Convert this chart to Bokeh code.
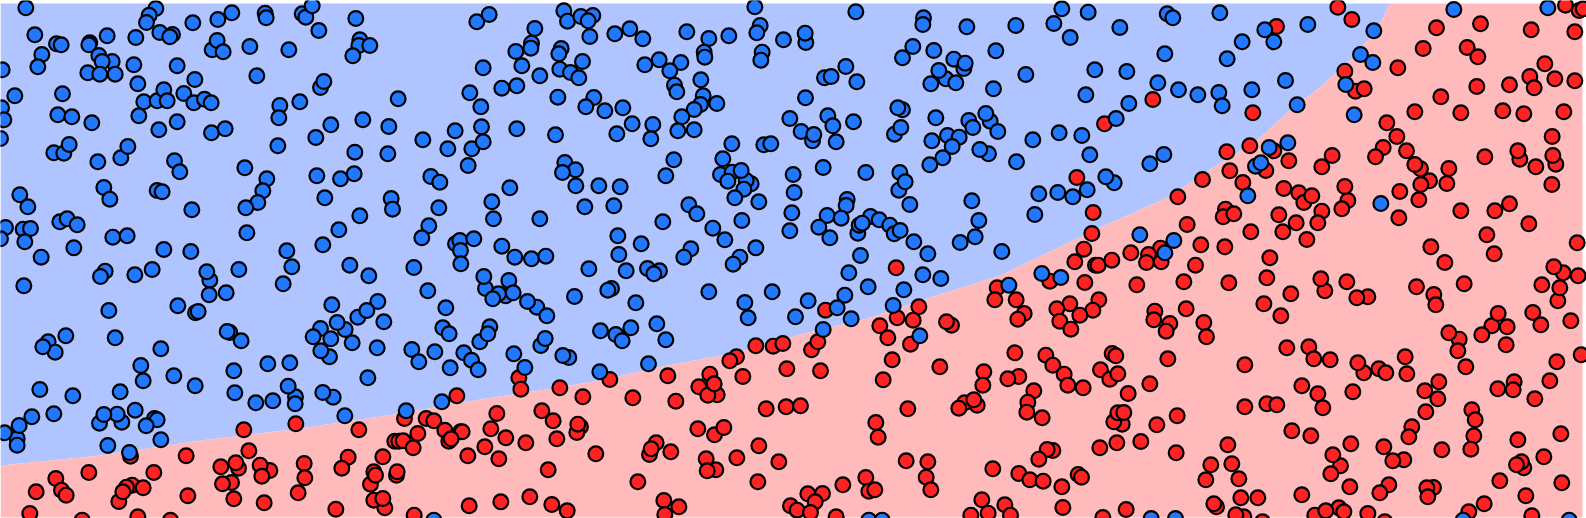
from bokeh.plotting import figure
from bokeh.embed import file_html
from bokeh.resources import INLINE

# Points, per area of the picture, in units of 1/3 pixel
ORIGINS = {"a": (0, 0), "b": (400, 0), "c": (800, 0), "d": (1186, 0),
           "e": (0, 258), "f": (400, 258), "g": (800, 258), "h": (1186, 258)}

blue_a = [(76,22),(103,103),(168,130),(182,133),(124,162),(112,199),(5,208),(268,127),(265,133),(320,106),(295,165),(335,183),(305,183),(262,217),(298,221),(344,221),(406,111),(400,193),(412,250),(466,24),(446,44),(438,66),(478,96),(516,102),(508,109),(577,67),(652,57),(694,37),(635,148),(650,120),(668,154),(748,138),(794,38),(797,52),(905,40),(916,50),(935,16),(955,90),(865,148),(1066,54),(1078,118),(1075,135),(1108,135),(1057,166),(530,196),(583,237),(769,226),(186,280),(43,286),(172,343),(214,349),(274,367),(3,322),(10,358),(0,414),(415,346),(430,304),(470,301),(490,268),(500,301),(550,279),(580,307),(612,296),(632,307),(530,364),(475,388),(633,397),(674,385),(960,261),(970,243),(898,304),(838,315),(835,352),(991,373),(946,411),(1087,358),(1165,378),(1193,295),(832,436),(1063,455),(1162,460),(160,457),(190,458),(206,432),(292,484),(361,472),(382,438),(522,481),(538,514),(733,502),(799,535),(787,571),(772,606),(736,622),(949,526),(1020,535),(1061,520),(973,592),(1172,594),(1176,626),(1078,646),(1015,688),(739,697),(967,733),(859,751),(58,583),(82,619),(310,561),(328,596),(470,570),(485,574),(574,628),(15,681),(68,686),(90,684),(73,724),(0,715),(178,664),(200,655),(230,673),(220,742),(337,710),(380,706),(490,747),(571,753),(122,770)]
blue_b = [(229,64),(266,42),(403,84),(393,128),(391,143),(346,153),(490,31),(501,62),(541,48),(577,45),(563,61),(568,108),(643,100),(688,85),(727,115),(859,94),(925,114),(985,106),(1063,19),(1079,75),(1069,97),(1149,118),(482,144),(475,160),(546,183),(364,196),(248,202),(418,226),(478,206),(510,216),(535,232),(733,193),(776,178),(841,186),(808,211),(911,155),(913,170),(1085,155),(1081,179),(901,238),(822,254),(829,274),(304,263),(349,256),(208,277),(472,290),(580,291),(556,319),(613,331),(667,322),(241,319),(908,286),(900,312),(881,327),(949,309),(844,349),(695,370),(757,372),(649,400),(751,415),(832,391),(881,388),(243,379),(349,385),(164,391),(465,403),(67,418),(142,445),(214,445),(248,424),(1168,354),(994,430),(1090,433),(1111,430),(203,495),(967,475),(820,478),(796,526),(493,486),(525,508),(486,516),(91,528),(118,545),(526,556),(595,556),(659,559),(328,562),(960,522),(995,515),(1052,550),(1037,540),(1030,566),(1022,510),(982,542),(1178,522),(1181,576),(1003,592),(1075,604),(274,604),(115,622),(553,619),(640,616),(865,613),(889,640),(1174,637),(1168,691),(279,655),(418,655),(787,664),(1024,660),(85,676),(937,683),(64,712),(652,706),(973,718),(165,730),(178,720),(220,715),(180,750),(722,730),(304,737),(1066,742),(871,745),(655,762),(343,770),(393,775),(436,767),(850,770),(1018,770)]
blue_c = [(166,34),(369,52),(367,72),(499,79),(646,75),(784,25),(863,35),(760,69),(958,81),(809,111),(1100,40),(1117,52),(16,126),(14,98),(337,138),(306,172),(400,150),(586,151),(1093,160),(460,176),(490,204),(494,188),(436,235),(415,210),(391,250),(466,247),(136,198),(72,232),(92,228),(169,244),(883,208),(979,213),(676,222),(1072,247),(579,265),(1134,268),(1192,283),(15,292),(856,283),(985,309),(306,328),(292,322),(82,346),(97,376),(159,364),(406,352),(505,360),(569,362),(556,339),(517,381),(592,393),(947,354),(282,401),(301,381),(776,397),(844,405),(697,418),(2,393),(36,421),(40,402),(107,424),(441,405),(476,410),(394,421),(455,438),(564,460),(538,447),(427,472),(388,493),(648,484),(868,463),(1090,462),(1048,490),(68,501),(196,516),(298,516),(295,569),(314,544),(941,547),(916,529),(860,568),(772,576),(715,580),(817,589),(140,597),(137,615),(514,601),(328,612),(703,642),(80,645),(122,653),(55,680),(88,712),(210,648),(236,658),(172,698),(176,674),(185,668),(268,674),(281,700),(299,690),(340,724),(382,760),(180,765),(479,726),(524,709),(535,660),(604,753),(1018,703),(1120,720),(1093,757)]
blue_d = [(100,37),(235,88),(364,72),(167,124),(262,124),(122,175),(562,91),(522,162),(559,186),(802,27),(1084,22),(297,240),(196,268),(97,276),(107,316),(332,313),(478,252),(503,343),(304,427),(248,441),(207,497),(223,487),(184,586),(583,609)]
blue_e = [(314,38),(300,54),(403,49),(455,33),(70,82),(628,65),(619,40),(626,109),(677,103),(715,33),(874,25),(848,76),(1048,20),(1105,52),(325,156),(532,142),(585,163),(593,159),(994,139),(1132,129),(1072,176),(1099,156),(1150,190),(960,210),(1034,213),(1010,192),(938,235),(987,295),(961,277),(991,241),(1055,253),(1130,268),(688,222),(680,219),(722,247),(143,250),(196,232),(164,281),(127,265),(344,238),(481,271),(421,321),(428,367),(520,352),(584,382),(700,337),(802,316),(868,313),(1102,358),(703,403),(885,415),(863,383),(884,436),(817,427),(766,433),(998,416),(967,402),(118,393),(217,412),(359,400),(160,466),(94,475),(50,540),(50,560),(56,501),(12,523),(404,455),(297,494),(364,491),(350,467),(310,468),(462,480),(470,484),(437,502),(1033,472),(481,544),(322,561),(387,582)]
blue_f = [(40,27),(181,16),(565,31),(677,37),(741,30),(777,37),(760,46),(998,17),(255,90),(250,54),(325,66),(315,112),(294,106),(338,103),(277,121),(82,97),(136,148),(409,146),(381,129),(439,172),(522,114),(633,90),(622,95),(706,133),(925,100),(1115,100),(1033,132),(1043,178),(1185,175),(127,208),(146,226),(268,205),(238,250),(262,226),(600,217),(646,228),(665,247),(691,208),(769,196),(796,244),(421,261),(434,240),(34,273),(55,310),(103,280),(190,283),(213,305),(233,334),(149,328),(340,286),(373,327),(505,297),(487,291),(744,316),(598,340),(124,430),(17,457),(100,785)]
blue_g = [(145,43),(203,85),(133,110),(23,127),(110,148),(152,181),(68,213),(278,141),(310,94),(367,49),(421,60),(724,45),(781,57),(625,80),(358,232),(205,785),(245,785),(1052,780),(1125,780)]
blue_h = [(830,785),(1148,785)]

red_c = [(1057,297),(912,370),(829,531),(878,636),(1132,589),(1160,672),(874,699),(850,746),(1080,743),(991,757),(1044,762)]
red_d = [(454,20),(496,57),(270,78),(750,82),(882,70),(1034,88),(1165,94),(1137,14),(1178,30),(1190,25),(710,144),(842,141),(874,169),(634,202),(475,212),(507,272),(533,265),(1075,190),(1030,228),(969,253),(1043,262),(871,258),(1105,235),(1165,241),(763,289),(199,337),(685,334),(823,337),(949,331),(1012,340),(1132,334),(601,367),(631,408),(121,454),(190,436),(262,451),(590,441),(567,469),(660,451),(1097,408),(1000,476),(994,451),(1108,491),(1099,465),(1048,499),(895,469),(437,465),(406,499),(307,481),(702,505),(685,492),(787,504),(130,511),(238,510),(48,537),(729,541),(703,552),(781,549),(1096,552),(169,546),(292,564),(337,577),(352,606),(376,586),(484,600),(475,558),(640,573),(697,598),(466,625),(406,632),(117,626),(110,649),(142,640),(277,643),(823,631),(925,631),(969,610),(329,667),(394,667),(637,652),(1027,670),(289,694),(193,694),(901,703),(361,717),(115,739),(43,733),(733,739),(1172,727),(250,772),(923,760)]
red_e = [(390,593),(730,514),(886,496),(1075,514),(745,577),(557,592),(1043,596),(1147,595),(1024,629),(911,615),(913,658),(661,625),(714,629),(706,613),(808,636),(779,620),(784,653),(460,642),(265,642),(166,660),(1188,650),(1190,640),(1110,677),(1120,640),(1125,650),(693,672),(666,676),(395,680),(428,688),(378,686),(355,729),(367,700),(107,700),(183,695),(197,710),(562,712),(893,703),(700,721),(791,733),(1153,748),(1120,725),(1147,720),(1006,752),(88,765),(412,775),(1183,548),(1195,548),(245,785),(510,785)]
red_f = [(355,358),(361,392),(169,412),(478,388),(547,415),(628,363),(697,418),(802,352),(826,428),(928,347),(895,385),(950,409),(922,410),(941,376),(1066,262),(1118,263),(1147,255),(1008,295),(988,307),(1027,354),(1159,331),(1097,451),(1157,445),(424,457),(458,487),(540,505),(529,522),(532,497),(469,541),(289,465),(271,511),(316,538),(253,565),(295,601),(202,592),(376,553),(12,480),(77,480),(100,487),(133,515),(180,520),(185,520),(145,548),(152,541),(52,525),(8,547),(38,568),(586,586),(892,511),(942,529),(970,507),(767,553),(747,588),(752,571),(811,580),(1075,562),(1009,598),(917,601),(946,634),(920,637),(1135,610),(443,634),(712,670),(1072,670),(206,742),(301,730),(388,715),(454,738),(500,757),(790,726),(835,745),(793,768),(1170,742),(1190,755),(41,770)]
red_g = [(823,10),(885,20),(893,20),(934,5),(1038,12),(1082,10),(287,28),(75,155),(355,145),(338,185),(290,178),(238,202),(262,238),(330,257),(33,274),(52,250),(60,337),(275,304),(248,364),(418,325),(453,200),(438,190),(0,442),(322,451),(590,88),(583,124),(647,124),(671,165),(652,182),(748,68),(853,72),(1009,79),(1150,70),(1157,151),(895,124),(877,155),(838,170),(808,136),(769,151),(778,188),(811,212),(1063,158),(1060,184),(1108,195),(1097,218),(643,283),(736,290),(757,320),(791,347),(802,380),(848,388),(935,285),(946,292),(900,334),(928,362),(952,346),(1102,301),(1048,376),(983,405),(550,340),(547,380),(655,354),(622,361),(700,397),(682,431),(679,461),(725,478),(492,433),(530,440),(520,424),(475,449),(965,497),(940,490),(952,463),(970,462),(1130,472),(1069,499),(226,492),(233,536),(1021,549),(949,553),(898,568),(1127,583),(757,576),(740,573),(715,602),(317,607),(382,610),(377,656),(391,694),(577,631),(655,645),(688,664),(728,668),(784,685),(833,648),(843,656),(196,657),(127,679),(205,698),(223,694),(66,705),(22,706),(44,730),(30,762),(544,724),(613,739),(563,764),(630,770),(511,770),(787,747),(977,753),(907,777),(107,775),(1185,20)]
red_h = [(775,12),(127,73),(241,58),(415,97),(403,61),(481,70),(544,115),(511,118),(690,85),(742,108),(748,139),(833,76),(1130,43),(1102,25),(1175,52),(1066,79),(1114,127),(1120,88),(313,106),(232,136),(283,172),(52,192),(60,235),(962,205),(916,202),(935,165),(886,229),(818,242),(787,223),(814,277),(959,259),(1039,162),(1063,199),(1153,187),(301,268),(367,265),(382,301),(431,304),(656,295),(175,319),(532,343),(514,313),(577,331),(598,343),(661,346),(838,325),(1111,310),(1184,289),(1090,367),(346,382),(394,406),(409,448),(499,400),(757,370),(715,397),(754,421),(718,460),(934,391),(983,370),(980,394),(1045,421),(175,445),(241,436),(271,439),(856,454),(866,484),(676,505),(667,535),(862,532),(316,517),(373,532),(1123,526),(994,544),(124,559),(493,556),(592,565),(766,574),(853,572),(652,604),(619,607),(462,622),(439,589),(433,646),(73,619),(136,616),(58,664),(157,661),(1072,595),(1012,628),(1005,610),(990,619),(940,667),(1126,673),(490,685),(607,679),(580,703),(741,687),(721,688),(724,715),(163,718),(214,718),(346,709),(1018,712),(90,745),(82,736),(893,736),(172,775),(148,769),(385,770),(457,748),(472,760),(418,757),(544,765),(847,760),(1036,772),(228,790),(595,790)]

# Boundary between the two classes, from left to right
boundary_x = [0, 100, 200, 300, 400, 467, 533, 600, 667, 733, 800, 867, 933, 1000, 1033, 1100, 1167, 1219, 1253, 1286, 1319, 1353, 1369, 1383, 1389]
boundary_y = [465, 455, 440, 428, 413, 401, 391, 380, 365, 353, 334, 318, 296, 275, 259, 227, 197, 163, 143, 113, 87, 57, 38, 17, 3]

X_LEFT, X_RIGHT, Y_TOP, Y_BOTTOM = 0, 1582, 3, 517


def convert(groups):
    xs, ys = [], []
    for key, pts in groups:
        ox, oy = ORIGINS[key]
        for zx, zy in pts:
            xs.append(ox + zx / 3)
            ys.append(oy + zy / 3)
    return xs, ys


blue_x, blue_y = convert([("a", blue_a), ("b", blue_b), ("c", blue_c), ("d", blue_d),
                          ("e", blue_e), ("f", blue_f), ("g", blue_g), ("h", blue_h)])
red_x, red_y = convert([("c", red_c), ("d", red_d), ("e", red_e), ("f", red_f),
                        ("g", red_g), ("h", red_h)])

p = figure(width=1586, height=518, x_range=(0, 1586), y_range=(518, 0),
           toolbar_location=None, output_backend="svg", min_border=0,
           outline_line_color=None, background_fill_color="white",
           border_fill_color="white")
p.axis.visible = False
p.grid.visible = False
p.styles = {"position": "fixed", "left": "0px", "top": "0px"}

p.patch([X_LEFT] + boundary_x + [X_LEFT], [boundary_y[0]] + boundary_y + [Y_TOP],
        fill_color="#b0c4ff", line_color=None)
p.patch(boundary_x + [X_RIGHT, X_RIGHT, X_LEFT],
        boundary_y + [Y_TOP, Y_BOTTOM, Y_BOTTOM],
        fill_color="#ffbbbb", line_color=None)

p.scatter(red_x, red_y, size=14.8, fill_color="#ff2222", line_color="black", line_width=2.2)
p.scatter(blue_x, blue_y, size=14.8, fill_color="#2277ff", line_color="black", line_width=2.2)

open("out.html", "w").write(file_html(p, INLINE))
